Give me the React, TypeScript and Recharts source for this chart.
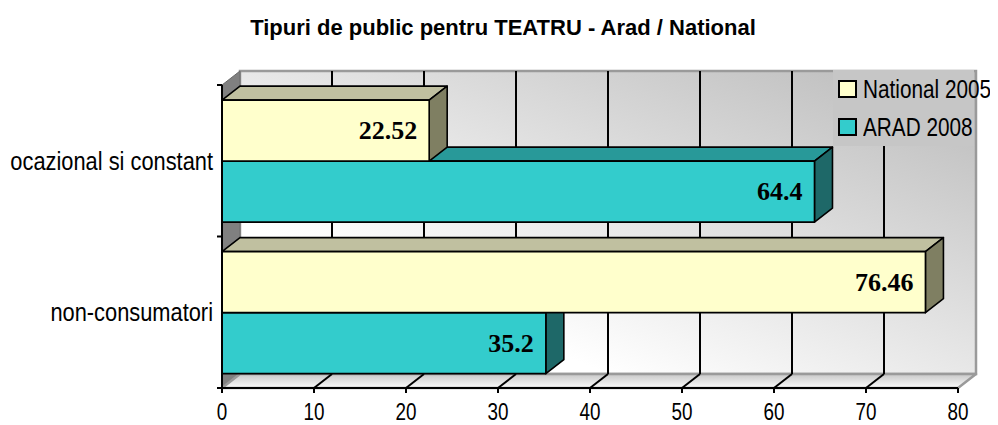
import React from "react";
import {
  BarChart,
  Bar,
  XAxis,
  YAxis,
  ReferenceArea,
  ReferenceLine,
  LabelList,
  Legend,
} from "recharts";

const categories = ["ocazional si constant", "non-consumatori"];
const national2005 = [22.52, 76.46];
const arad2008 = [64.4, 35.2];
const xTicks = [0, 10, 20, 30, 40, 50, 60, 70, 80];
const seriesNames = ["National 2005", "ARAD 2008"];
const seriesColors = ["#FFFFCC", "#33CCCC"];

const data = categories.map((name, i) => ({
  name,
  national: national2005[i],
  arad: arad2008[i],
}));

// 3D depth of the walls and bars
const DX = 18;
const DY = -14;

const SANS = "'Liberation Sans', Arial, sans-serif";
const SERIF = "'Liberation Serif', 'Times New Roman', serif";

const make3DBar = (front: string, top: string, side: string) => (props: any) => {
  const { x, y, width, height } = props;
  if (!width || width <= 0) return <g />;
  return (
    <g stroke="#000" strokeWidth={1.6} strokeLinejoin="round">
      <polygon
        points={`${x},${y} ${x + DX},${y + DY} ${x + width + DX},${y + DY} ${x + width},${y}`}
        fill={top}
      />
      <polygon
        points={`${x + width},${y} ${x + width + DX},${y + DY} ${x + width + DX},${y + height + DY} ${x + width},${y + height}`}
        fill={side}
      />
      <rect x={x} y={y} width={width} height={height} fill={front} />
    </g>
  );
};

const WallShape = (props: any) => {
  const { x, y, width, height } = props;
  const b = y + height;
  return (
    <g>
      <defs>
        <linearGradient id="wallGrad" x1="0" y1="1" x2="1" y2="0">
          <stop offset="0.25" stopColor="#ffffff" />
          <stop offset="1" stopColor="#b9b9b9" />
        </linearGradient>
        <linearGradient id="floorGrad" x1="0" y1="0" x2="0" y2="1">
          <stop offset="0" stopColor="#c8c8c8" />
          <stop offset="1" stopColor="#fafafa" />
        </linearGradient>
      </defs>
      <rect
        x={x + DX}
        y={y + DY}
        width={width}
        height={height}
        fill="url(#wallGrad)"
        stroke="#9a9a9a"
        strokeWidth={2.5}
      />
      <polygon
        points={`${x},${y} ${x + DX},${y + DY} ${x + DX},${b + DY} ${x},${b}`}
        fill="#808080"
        stroke="#6a6a6a"
        strokeWidth={1}
      />
      <polygon
        points={`${x},${b} ${x + DX},${b + DY} ${x + width + DX},${b + DY} ${x + width},${b}`}
        fill="url(#floorGrad)"
        stroke="#9a9a9a"
        strokeWidth={2.5}
        strokeLinejoin="round"
      />
    </g>
  );
};

const GridShape = (props: any) => {
  const { x1, y1, x2, y2 } = props;
  const top = Math.min(y1, y2);
  const bottom = Math.max(y1, y2);
  const onEdge = props.value === 0 || props.value === 80;
  if (onEdge) return <g />;
  return (
    <g stroke="#000" strokeWidth={2}>
      <line x1={x1 + DX} y1={top + DY} x2={x2 + DX} y2={bottom + DY} />
      <line x1={x1} y1={bottom} x2={x1 + DX} y2={bottom + DY} />
    </g>
  );
};

const CategoryTick = (props: any) => {
  const { x, y, payload, index } = props;
  const off = payload?.offset ?? 0;
  return (
    <g>
      <text
        transform={`translate(${x} ${y}) scale(0.84 1)`}
        textAnchor="end"
        dominantBaseline="central"
        fontFamily={SANS}
        fontSize={26}
        fill="#000"
      >
        {payload.value}
      </text>
      <line x1={x + 4} y1={y - off} x2={x + 9} y2={y - off} stroke="#000" strokeWidth={2} />
      {index === categories.length - 1 && (
        <line x1={x + 4} y1={y + off} x2={x + 9} y2={y + off} stroke="#000" strokeWidth={2} />
      )}
    </g>
  );
};

const NumberTick = (props: any) => {
  const { x, y, payload } = props;
  return (
    <text
      transform={`translate(${x} ${y + 19}) scale(0.82 1)`}
      textAnchor="middle"
      fontFamily={SANS}
      fontSize={23}
      fill="#000"
    >
      {payload.value}
    </text>
  );
};

const ValueLabel = (props: any) => {
  const { x, y, width, height, value } = props;
  return (
    <text
      x={x + width - 12}
      y={y + height / 2}
      textAnchor="end"
      dominantBaseline="central"
      fontFamily={SERIF}
      fontWeight="bold"
      fontSize={26}
      fill="#000"
    >
      {value}
    </text>
  );
};

const LegendBox = (props: any) => {
  const items = [...(props.payload || [])].sort(
    (a: any, b: any) => seriesNames.indexOf(a.value) - seriesNames.indexOf(b.value),
  );
  return (
    <div
      style={{
        width: 141,
        height: 76,
        background: "#c6c6c6",
        boxSizing: "border-box",
        overflow: "visible",
      }}
    >
      {items.map((it: any) => (
        <div
          key={it.value}
          style={{
            display: "flex",
            alignItems: "center",
            height: 38,
            whiteSpace: "nowrap",
            fontFamily: SANS,
            fontSize: 25,
            color: "#000",
          }}
        >
          <span
            style={{
              display: "inline-block",
              flexShrink: 0,
              width: 15,
              height: 14,
              marginLeft: 5,
              marginRight: 6,
              border: "2px solid #000",
              background: seriesColors[seriesNames.indexOf(it.value)],
            }}
          />
          <span
            style={{
              display: "inline-block",
              flexShrink: 0,
              transform: "scaleX(0.83)",
              transformOrigin: "left center",
            }}
          >
            {it.value}
          </span>
        </div>
      ))}
    </div>
  );
};

export default function App() {
  return (
    <div style={{ position: "relative", width: 982, height: 417 }}>
      <div
        style={{
          position: "absolute",
          left: 0,
          width: 990,
          top: 7,
          textAlign: "center",
          fontFamily: SANS,
          fontWeight: "bold",
          fontSize: 22,
          color: "#000",
          zIndex: 2,
        }}
      >
        Tipuri de public pentru TEATRU - Arad / National
      </div>
      <BarChart
        width={982}
        height={417}
        data={data}
        layout="vertical"
        margin={{ top: 77, right: 32, bottom: 0, left: 0 }}
        barCategoryGap="10%"
        barGap={0}
      >
        <ReferenceArea x1={0} x2={80} shape={WallShape} zIndex={-200} />
        {xTicks.map((t) => (
          <ReferenceLine
            key={t}
            x={t}
            stroke="#000"
            zIndex={-150}
            shape={(p: any) => <GridShape {...p} value={t} />}
          />
        ))}
        <XAxis
          type="number"
          domain={[0, 80]}
          ticks={xTicks}
          height={37}
          stroke="#000"
          strokeWidth={2}
          tickSize={5}
          tickMargin={8}
          tick={<NumberTick />}
        />
        <YAxis
          type="category"
          dataKey="name"
          width={214}
          stroke="#000"
          strokeWidth={2}
          tickLine={false}
          tickSize={5}
          tickMargin={4}
          tick={<CategoryTick />}
        />
        <Legend
          layout="vertical"
          align="center"
          verticalAlign="middle"
          wrapperStyle={{ left: 825, top: 62, width: 141, height: 76 }}
          content={<LegendBox />}
        />
        <Bar
          dataKey="national"
          name={seriesNames[0]}
          fill={seriesColors[0]}
          zIndex={320}
          isAnimationActive={false}
          shape={make3DBar(seriesColors[0], "#C0C0A0", "#7F7F62")}
        >
          <LabelList dataKey="national" content={<ValueLabel />} />
        </Bar>
        <Bar
          dataKey="arad"
          name={seriesNames[1]}
          fill={seriesColors[1]}
          zIndex={310}
          isAnimationActive={false}
          shape={make3DBar(seriesColors[1], "#289999", "#1E6868")}
        >
          <LabelList dataKey="arad" content={<ValueLabel />} />
        </Bar>
      </BarChart>
    </div>
  );
}
